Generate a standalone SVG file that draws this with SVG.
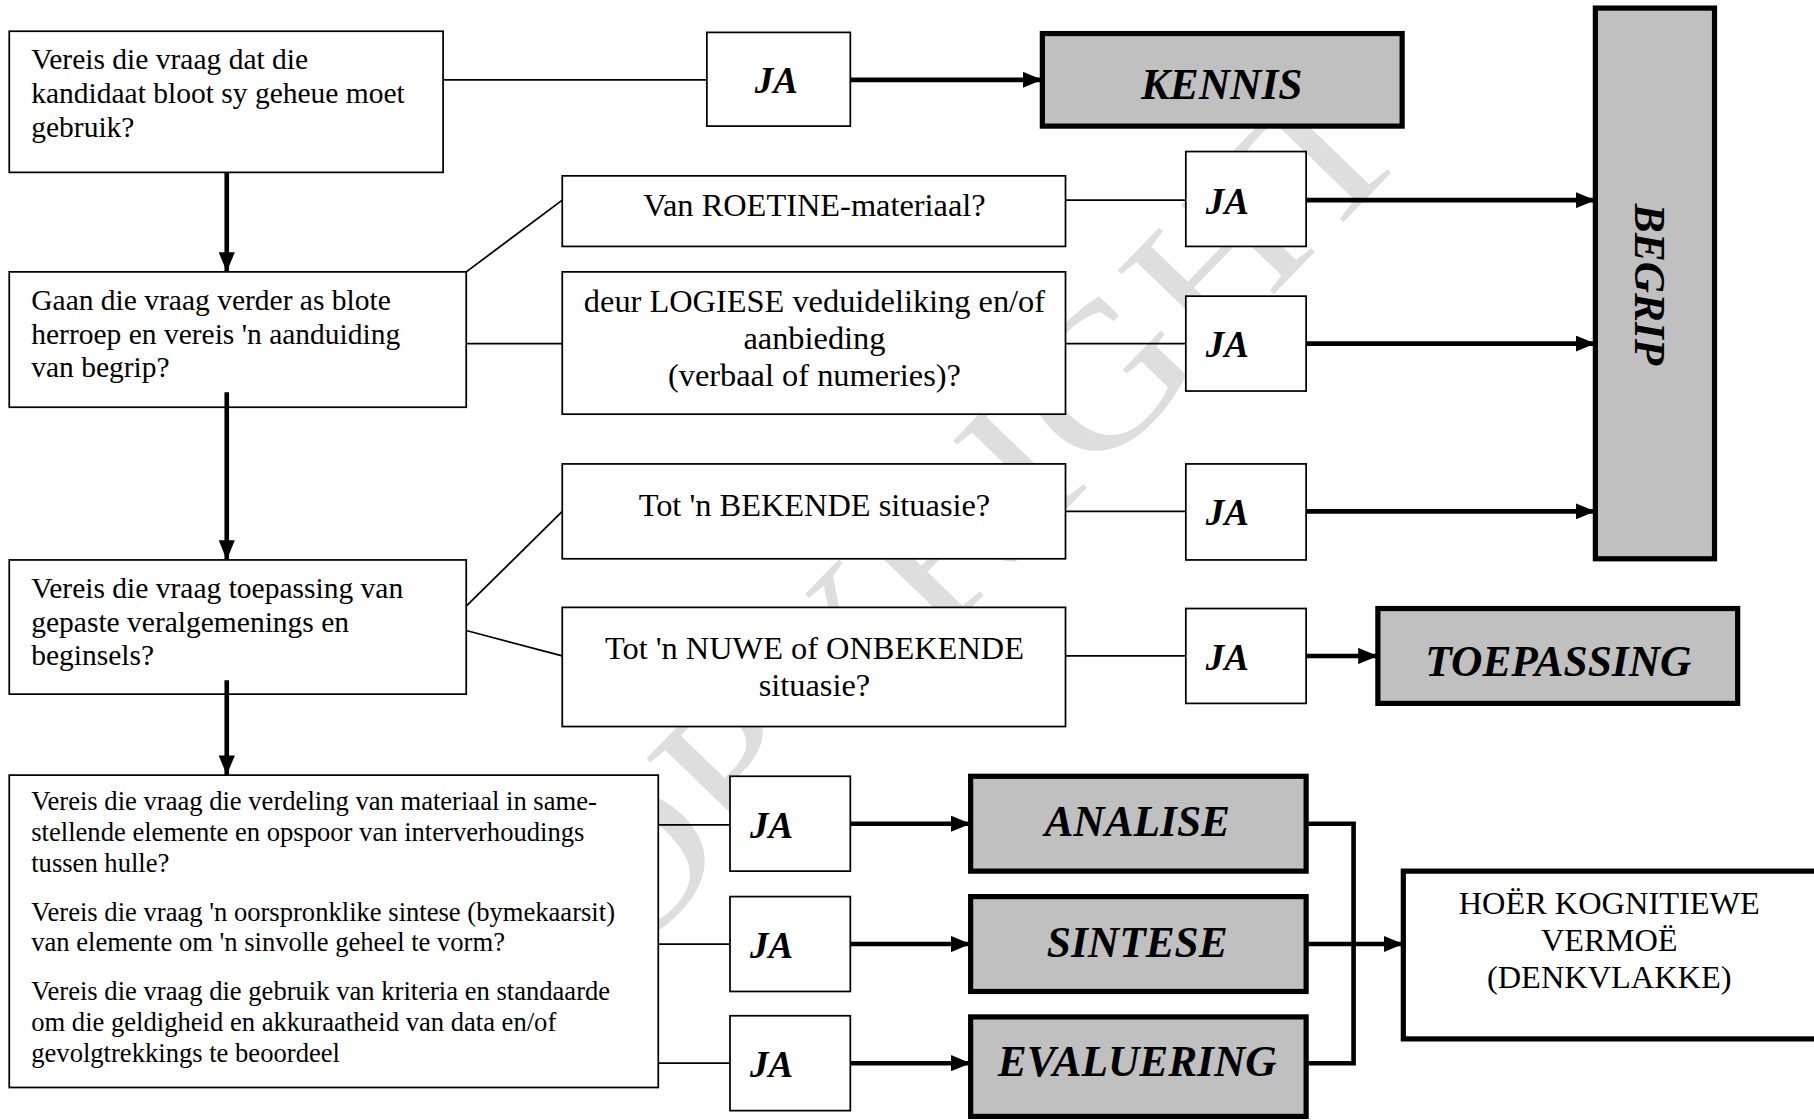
<svg xmlns="http://www.w3.org/2000/svg" width="1814" height="1120" viewBox="0 0 1814 1120">
<style>
.box{fill:#fff;stroke:#000;stroke-width:1.5}
.gbox{fill:#c0c0c0;stroke:#000;stroke-width:4.5}
.wbox{fill:#fff;stroke:#000;stroke-width:4.5}
.t{font-family:"Liberation Serif","Times New Roman",serif;font-size:25.5px;fill:#000}
.tm{font-family:"Liberation Serif","Times New Roman",serif;font-size:28px;fill:#000}
.ts{font-family:"Liberation Serif","Times New Roman",serif;font-size:23px;fill:#000}
.ja{font-family:"Liberation Serif","Times New Roman",serif;font-size:32px;font-weight:bold;font-style:italic;fill:#000}
.big{font-family:"Liberation Serif","Times New Roman",serif;font-size:37.5px;font-weight:bold;font-style:italic;fill:#000}
.wm{font-family:"Liberation Serif","Times New Roman",serif;font-size:170px;fill:#dedede}
.thin{stroke:#000;stroke-width:1.5;fill:none}
.thick{stroke:#000;stroke-width:4;fill:none}
</style>
<defs>
<marker id="ah" markerUnits="userSpaceOnUse" markerWidth="18" markerHeight="14" refX="17" refY="7" orient="auto">
<path d="M0,0 L17,7 L0,14 Z" fill="#000"/>
</marker>
</defs>
<rect width="1814" height="1120" fill="#fff"/>
<g transform="scale(1.1569)">
<text class="wm" transform="translate(835,530) rotate(-46) scale(1.15,1)" text-anchor="middle">COPYRIGHT</text>
<g id="q1"><rect class="box" x="8" y="27" width="375" height="122"/>
<text class="t" x="27" y="60">Vereis die vraag dat die</text>
<text class="t" x="27" y="89">kandidaat bloot sy geheue moet</text>
<text class="t" x="27" y="118">gebruik?</text></g>
<g id="q2"><rect class="box" x="8" y="235" width="395" height="117"/>
<text class="t" x="27" y="268">Gaan die vraag verder as blote</text>
<text class="t" x="27" y="297">herroep en vereis 'n aanduiding</text>
<text class="t" x="27" y="326">van begrip?</text></g>
<g id="q3"><rect class="box" x="8" y="484" width="395" height="116"/>
<text class="t" x="27" y="517">Vereis die vraag toepassing van</text>
<text class="t" x="27" y="546">gepaste veralgemenings en</text>
<text class="t" x="27" y="575">beginsels?</text></g>
<g id="q4"><rect class="box" x="8" y="670" width="561" height="270"/>
<text class="ts" x="27" y="700">Vereis die vraag die verdeling van materiaal in same-</text>
<text class="ts" x="27" y="727">stellende elemente en opspoor van interverhoudings</text>
<text class="ts" x="27" y="754">tussen hulle?</text>
<text class="ts" x="27" y="796">Vereis die vraag 'n oorspronklike sintese (bymekaarsit)</text>
<text class="ts" x="27" y="822">van elemente om 'n sinvolle geheel te vorm?</text>
<text class="ts" x="27" y="864">Vereis die vraag die gebruik van kriteria en standaarde</text>
<text class="ts" x="27" y="891">om die geldigheid en akkuraatheid van data en/of</text>
<text class="ts" x="27" y="918">gevolgtrekkings te beoordeel</text></g>
<g id="roetine"><rect class="box" x="486" y="152" width="435" height="61"/>
<text class="tm" x="704" y="187" text-anchor="middle">Van ROETINE-materiaal?</text></g>
<g id="logiese"><rect class="box" x="486" y="235" width="435" height="123"/>
<text class="tm" x="704" y="270" text-anchor="middle">deur LOGIESE veduideliking en/of</text>
<text class="tm" x="704" y="302" text-anchor="middle">aanbieding</text>
<text class="tm" x="704" y="334" text-anchor="middle">(verbaal of numeries)?</text></g>
<g id="bekende"><rect class="box" x="486" y="401" width="435" height="82"/>
<text class="tm" x="704" y="446" text-anchor="middle">Tot 'n BEKENDE situasie?</text></g>
<g id="nuwe"><rect class="box" x="486" y="525" width="435" height="103"/>
<text class="tm" x="704" y="570" text-anchor="middle">Tot 'n NUWE of ONBEKENDE</text>
<text class="tm" x="704" y="602" text-anchor="middle">situasie?</text></g>
<g id="ja1"><rect class="box" x="611" y="28" width="124" height="81"/><text class="ja" x="671" y="80" text-anchor="middle">JA</text></g>
<g id="ja2"><rect class="box" x="1025" y="131" width="104" height="82"/><text class="ja" x="1061" y="185" text-anchor="middle">JA</text></g>
<g id="ja3"><rect class="box" x="1025" y="256" width="104" height="82"/><text class="ja" x="1061" y="309" text-anchor="middle">JA</text></g>
<g id="ja4"><rect class="box" x="1025" y="401" width="104" height="83"/><text class="ja" x="1061" y="454" text-anchor="middle">JA</text></g>
<g id="ja5"><rect class="box" x="1025" y="526" width="104" height="82"/><text class="ja" x="1061" y="579" text-anchor="middle">JA</text></g>
<g id="ja6"><rect class="box" x="631" y="671" width="104" height="82"/><text class="ja" x="667" y="724" text-anchor="middle">JA</text></g>
<g id="ja7"><rect class="box" x="631" y="775" width="104" height="82"/><text class="ja" x="667" y="828" text-anchor="middle">JA</text></g>
<g id="ja8"><rect class="box" x="631" y="878" width="104" height="82"/><text class="ja" x="667" y="931" text-anchor="middle">JA</text></g>
<g id="kennis"><rect class="gbox" x="901" y="29" width="311" height="80"/><text class="big" x="1056" y="86" text-anchor="middle">KENNIS</text></g>
<g id="begrip"><rect class="gbox" x="1379" y="7" width="103" height="476"/><text class="big" transform="translate(1413,246) rotate(90)" text-anchor="middle">BEGRIP</text></g>
<g id="toepassing"><rect class="gbox" x="1191" y="526" width="311" height="82"/><text class="big" x="1347" y="584" text-anchor="middle">TOEPASSING</text></g>
<g id="analise"><rect class="gbox" x="839" y="671" width="290" height="82"/><text class="big" x="983" y="723" text-anchor="middle">ANALISE</text></g>
<g id="sintese"><rect class="gbox" x="839" y="775" width="290" height="82"/><text class="big" x="983" y="827" text-anchor="middle">SINTESE</text></g>
<g id="evaluering"><rect class="gbox" x="839" y="879" width="290" height="86"/><text class="big" x="983" y="930" text-anchor="middle">EVALUERING</text></g>
<g id="hoer"><rect class="wbox" x="1213" y="753" width="370" height="145"/>
<text class="tm" x="1391" y="790" text-anchor="middle">HOËR KOGNITIEWE</text>
<text class="tm" x="1391" y="822" text-anchor="middle">VERMOË</text>
<text class="tm" x="1391" y="854" text-anchor="middle">(DENKVLAKKE)</text></g>
<g id="connectors">
<line class="thin" x1="383" y1="69" x2="611" y2="69"/>
<line class="thick" x1="735" y1="69" x2="901" y2="69" marker-end="url(#ah)"/>
<line class="thick" x1="196" y1="149" x2="196" y2="235" marker-end="url(#ah)"/>
<line class="thick" x1="196" y1="339" x2="196" y2="484" marker-end="url(#ah)"/>
<line class="thick" x1="196" y1="588" x2="196" y2="670" marker-end="url(#ah)"/>
<line class="thin" x1="403" y1="235" x2="486" y2="173"/>
<line class="thin" x1="403" y1="297" x2="486" y2="297"/>
<line class="thin" x1="403" y1="524" x2="486" y2="442"/>
<line class="thin" x1="403" y1="545" x2="486" y2="567"/>
<line class="thin" x1="921" y1="173" x2="1025" y2="173"/>
<line class="thin" x1="921" y1="297" x2="1025" y2="297"/>
<line class="thin" x1="921" y1="442" x2="1025" y2="442"/>
<line class="thin" x1="921" y1="567" x2="1025" y2="567"/>
<line class="thick" x1="1129" y1="173" x2="1379" y2="173" marker-end="url(#ah)"/>
<line class="thick" x1="1129" y1="297" x2="1379" y2="297" marker-end="url(#ah)"/>
<line class="thick" x1="1129" y1="442" x2="1379" y2="442" marker-end="url(#ah)"/>
<line class="thick" x1="1129" y1="567" x2="1191" y2="567" marker-end="url(#ah)"/>
<line class="thin" x1="569" y1="713" x2="631" y2="713"/>
<line class="thin" x1="569" y1="816" x2="631" y2="816"/>
<line class="thin" x1="569" y1="919" x2="631" y2="919"/>
<line class="thick" x1="735" y1="712" x2="839" y2="712" marker-end="url(#ah)"/>
<line class="thick" x1="735" y1="816" x2="839" y2="816" marker-end="url(#ah)"/>
<line class="thick" x1="735" y1="919" x2="839" y2="919" marker-end="url(#ah)"/>
<polyline class="thick" points="1131,712 1170,712 1170,919 1131,919"/>
<line class="thick" x1="1131" y1="816" x2="1213" y2="816" marker-end="url(#ah)"/>
</g>
</g>
</svg>
